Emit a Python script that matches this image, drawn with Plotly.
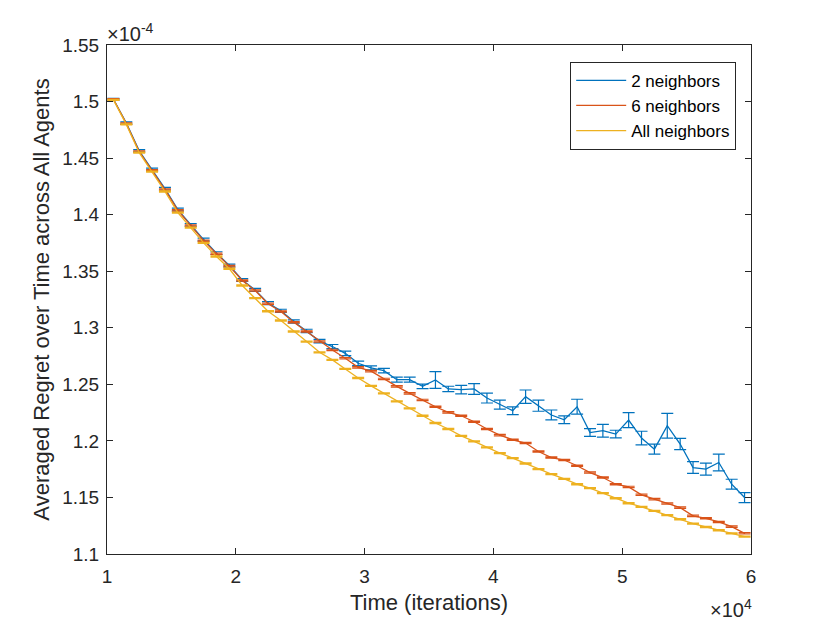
import plotly.graph_objects as go

# iterations at which the regret was sampled
iterations = [10500, 11500, 12500, 13500, 14500, 15500, 16500, 17500, 18500, 19500,
              20500, 21500, 22500, 23500, 24500, 25500, 26500, 27500, 28500, 29500,
              30500, 31500, 32500, 33500, 34500, 35500, 36500, 37500, 38500, 39500,
              40500, 41500, 42500, 43500, 44500, 45500, 46500, 47500, 48500, 49500,
              50500, 51500, 52500, 53500, 54500, 55500, 56500, 57500, 58500, 59500]

# averaged regret, in units of 1e-4
regret_2 = [1.5020, 1.4810, 1.4565, 1.4400, 1.4230, 1.4045, 1.3910, 1.3780, 1.3660, 1.3550,
            1.3422, 1.3335, 1.3218, 1.3150, 1.3055, 1.2972, 1.2882, 1.2834, 1.2774, 1.2686,
            1.2645, 1.2621, 1.2541, 1.2541, 1.2482, 1.2539, 1.2459, 1.2453, 1.2459, 1.2379,
            1.2320, 1.2267, 1.2391, 1.2311, 1.2229, 1.2187, 1.2302, 1.2074, 1.2090, 1.2060,
            1.2184, 1.2025, 1.1927, 1.2134, 1.1972, 1.1764, 1.1750, 1.1809, 1.1617, 1.1499]
err_2 = [0.0008, 0.0010, 0.0010, 0.0012, 0.0012, 0.0012, 0.0012, 0.0012, 0.0012, 0.0012,
         0.0012, 0.0014, 0.0014, 0.0014, 0.0015, 0.0015, 0.0016, 0.0018, 0.0020, 0.0020,
         0.0018, 0.0020, 0.0022, 0.0022, 0.0020, 0.0074, 0.0024, 0.0037, 0.0047, 0.0044,
         0.0040, 0.0034, 0.0059, 0.0049, 0.0044, 0.0035, 0.0066, 0.0034, 0.0056, 0.0034,
         0.0066, 0.0060, 0.0044, 0.0110, 0.0050, 0.0052, 0.0053, 0.0074, 0.0044, 0.0044]

regret_6 = [1.5020, 1.4805, 1.4558, 1.4393, 1.4222, 1.4038, 1.3905, 1.3770, 1.3655, 1.3545,
            1.3418, 1.3330, 1.3212, 1.3144, 1.3049, 1.2967, 1.2878, 1.2804, 1.2730, 1.2650,
            1.2617, 1.2548, 1.2482, 1.2420, 1.2362, 1.2302, 1.2252, 1.2222, 1.2169, 1.2105,
            1.2051, 1.2010, 1.1981, 1.1906, 1.1853, 1.1831, 1.1780, 1.1720, 1.1676, 1.1617,
            1.1593, 1.1523, 1.1485, 1.1446, 1.1410, 1.1337, 1.1316, 1.1283, 1.1242, 1.1183]
err_6 = [0.0006] * 50

regret_all = [1.5015, 1.4798, 1.4548, 1.4380, 1.4205, 1.4018, 1.3885, 1.3750, 1.3630, 1.3522,
              1.3374, 1.3262, 1.3146, 1.3064, 1.2967, 1.2878, 1.2783, 1.2716, 1.2636, 1.2556,
              1.2486, 1.2420, 1.2349, 1.2287, 1.2222, 1.2158, 1.2105, 1.2045, 1.1995, 1.1942,
              1.1892, 1.1848, 1.1800, 1.1750, 1.1706, 1.1664, 1.1617, 1.1582, 1.1538, 1.1493,
              1.1449, 1.1416, 1.1381, 1.1343, 1.1307, 1.1268, 1.1239, 1.1210, 1.1183, 1.1153]
err_all = [0.0005] * 50

series = [('2 neighbors', regret_2, err_2, '#0072BD'),
          ('6 neighbors', regret_6, err_6, '#D95319'),
          ('All neighbors', regret_all, err_all, '#EDB120')]

x_ticks = [1, 2, 3, 4, 5, 6]
y_ticks = [1.1, 1.15, 1.2, 1.25, 1.3, 1.35, 1.4, 1.45, 1.5, 1.55]
y_labels = ['1.1', '1.15', '1.2', '1.25', '1.3', '1.35', '1.4', '1.45', '1.5', '1.55']

axis_col = '#262626'
font = 'Liberation Sans, Arial, sans-serif'

x = [i / 1e4 for i in iterations]

fig = go.Figure()
for name, y, err, col in series:
    fig.add_trace(go.Scatter(x=x, y=y, mode='lines', name=name,
                             line=dict(color=col, width=1.3),
                             error_y=dict(type='data', array=err, visible=True,
                                          color=col, thickness=1.2, width=6)))

# page body keeps an 8px margin, so the figure is sized to fill the rest of the window
fig.update_layout(
    width=822, height=615,
    paper_bgcolor='white', plot_bgcolor='white',
    margin=dict(l=99, r=79, t=37, b=69, autoexpand=False),
    font=dict(family=font, size=19, color=axis_col),
    legend=dict(x=0.977, y=0.967, xanchor='right', yanchor='top',
                bgcolor='white', bordercolor=axis_col, borderwidth=1,
                font=dict(size=17, color='black'), itemwidth=50,
                tracegroupgap=0),
    annotations=[
        dict(text='×10<sup>-4</sup>', x=0, y=1, xref='paper', yref='paper',
             xanchor='left', yanchor='bottom', showarrow=False, xshift=-2, yshift=-2,
             font=dict(size=20, color=axis_col)),
        dict(text='×10<sup>4</sup>', x=1, y=0, xref='paper', yref='paper',
             xanchor='right', yanchor='top', showarrow=False, xshift=3, yshift=-40,
             font=dict(size=20, color=axis_col)),
    ],
)

fig.update_xaxes(range=[1, 6], tickvals=x_ticks, ticks='inside', ticklen=6,
                 tickcolor=axis_col, showline=True, linecolor=axis_col, linewidth=1,
                 mirror='ticks', showgrid=False, zeroline=False, automargin=False,
                 ticklabelstandoff=5,
                 title=dict(text='Time (iterations)', standoff=8,
                            font=dict(size=22, color=axis_col)))
fig.update_yaxes(range=[1.1, 1.55], tickvals=y_ticks, ticktext=y_labels, ticks='inside',
                 ticklen=6, tickcolor=axis_col, showline=True, linecolor=axis_col,
                 linewidth=1, mirror='ticks', showgrid=False, zeroline=False,
                 automargin=False, ticklabelstandoff=3,
                 title=dict(text='Averaged Regret over Time across All Agents', standoff=6,
                            font=dict(size=22, color=axis_col)))

fig.write_html("out.html")
